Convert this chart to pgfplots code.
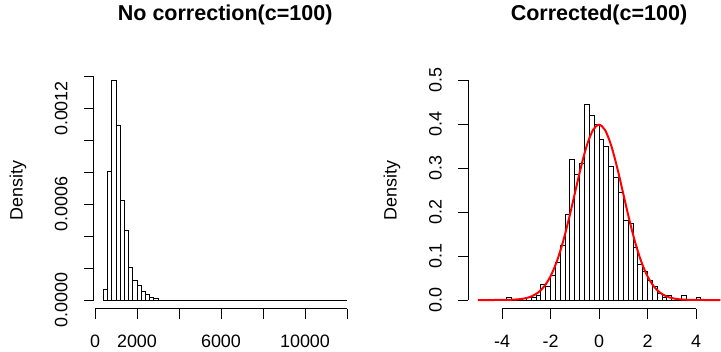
\documentclass[border=0pt]{standalone}
\usepackage{fontspec}
\setmainfont{Liberation Sans}
\usepackage{pgfplots}
\pgfplotsset{compat=1.18}
\pgfplotsset{
  rhist/.style={
    scale only axis,
    height=237.3bp,
    anchor=south west,
    axis x line*=bottom, axis y line*=left,
    axis line style={draw=none},
    scaled ticks=false,
    tick align=outside, major tick length=10bp,
    tick style={black, line width=0.9bp},
    tick label style={font=\fontsize{18}{18}\selectfont, text=black},
    xticklabel style={anchor=center, yshift=-22.9bp},
    yticklabel style={anchor=center, xshift=-22.5bp, rotate=90},
    title style={anchor=base, font=\bfseries\fontsize{21.6}{21.6}\selectfont},
    ylabel style={anchor=center, font=\fontsize{18}{18}\selectfont},
    clip=false,
  },
  histbar/.style={ybar interval, fill=white, draw=black, line width=0.9bp},
}
\begin{document}
\begin{tikzpicture}
\useasboundingbox (0,0) rectangle (721bp,-352bp);
% ---------------- left panel ----------------
\begin{axis}[rhist,
  at={(93.66bp,-308.8bp)},
  width=263.08bp,
  xmin=-64, xmax=12464,
  ymin=-0.0000551, ymax=0.001432,
  xtick={0,2000,4000,6000,8000,10000,12000},
  xticklabels={0,2000,,6000,,10000,},
  ytick={0,0.0002,0.0004,0.0006,0.0008,0.001,0.0012,0.0014},
  yticklabels={0.0000,,,0.0006,,,0.0012,},
  title={No correction(c=100)},
  title style={at={(axis description cs:0.5,1.1912)}},
  ylabel={Density},
  ylabel style={at={(axis description cs:-0.2876,0.5)}},
]
\addplot[histbar] coordinates {
 (400,0.000065) (600,0.000805) (800,0.001375) (1000,0.001095)
 (1200,0.000625) (1400,0.000435) (1600,0.000205) (1800,0.00012)
 (2000,0.00009) (2200,0.000055) (2400,0.000035) (2600,0.000015)
 (2800,0.00001) (3000,0) (12000,0)
};
\draw[black, line width=0.9bp] (axis cs:0,-0.0000551) -- (axis cs:12000,-0.0000551);
\draw[black, line width=0.9bp] (axis cs:-64,0) -- (axis cs:-64,0.0014);
\end{axis}
% ---------------- right panel ----------------
\begin{axis}[rhist,
  at={(468.05bp,-308.8bp)},
  width=261.9bp,
  xmin=-5.4, xmax=5.4,
  ymin=-0.02, ymax=0.52,
  xtick={-4,-2,0,2,4},
  xticklabels={-4,-2,0,2,4},
  ytick={0,0.1,0.2,0.3,0.4,0.5},
  yticklabels={0.0,0.1,0.2,0.3,0.4,0.5},
  title={Corrected(c=100)},
  title style={at={(axis description cs:0.5,1.1912)}},
  ylabel={Density},
  ylabel style={at={(axis description cs:-0.2904,0.5)}},
]
\addplot[histbar] coordinates {
 (-3.8,0.005) (-3.6,0) (-3.4,0) (-3.2,0) (-3.0,0.005) (-2.8,0.005)
 (-2.6,0.01) (-2.4,0.035) (-2.2,0.03) (-2.0,0.055) (-1.8,0.085)
 (-1.6,0.125) (-1.4,0.195) (-1.2,0.32) (-1.0,0.285) (-0.8,0.31)
 (-0.6,0.445) (-0.4,0.42) (-0.2,0.40) (0.0,0.365) (0.2,0.35)
 (0.4,0.305) (0.6,0.28) (0.8,0.245) (1.0,0.18) (1.2,0.175)
 (1.4,0.12) (1.6,0.08) (1.8,0.065) (2.0,0.045) (2.2,0.03)
 (2.4,0.015) (2.6,0.005) (2.8,0.01) (3.0,0) (3.2,0) (3.4,0.01)
 (3.6,0) (3.8,0) (4.0,0.005) (4.2,0)
};
\addplot[red, line width=2bp, smooth] coordinates {
 (-5,0.0000015) (-4.75,0.000005) (-4.5,0.000016) (-4.25,0.000047)
 (-4,0.000134) (-3.75,0.000353) (-3.5,0.000873) (-3.25,0.002029)
 (-3,0.004432) (-2.75,0.009094) (-2.5,0.017528) (-2.25,0.03174)
 (-2,0.053991) (-1.75,0.086277) (-1.5,0.129518) (-1.25,0.182649)
 (-1,0.241971) (-0.75,0.301137) (-0.5,0.352065) (-0.25,0.386668)
 (0,0.398942)
 (0.25,0.386668) (0.5,0.352065) (0.75,0.301137) (1,0.241971)
 (1.25,0.182649) (1.5,0.129518) (1.75,0.086277) (2,0.053991)
 (2.25,0.03174) (2.5,0.017528) (2.75,0.009094) (3,0.004432)
 (3.25,0.002029) (3.5,0.000873) (3.75,0.000353) (4,0.000134)
 (4.25,0.000047) (4.5,0.000016) (4.75,0.000005) (5,0.0000015)
};
\draw[black, line width=0.9bp] (axis cs:-4,-0.02) -- (axis cs:4,-0.02);
\draw[black, line width=0.9bp] (axis cs:-5.4,0) -- (axis cs:-5.4,0.5);
\end{axis}
\end{tikzpicture}
\end{document}
